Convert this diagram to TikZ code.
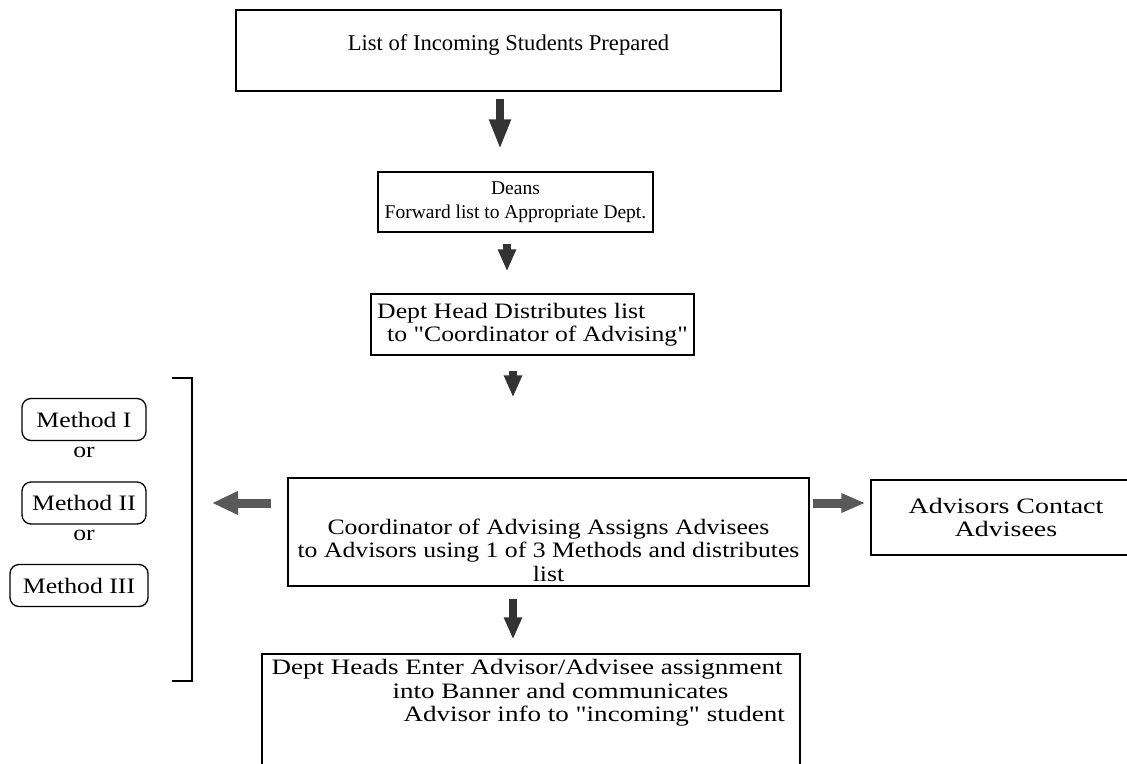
\documentclass[tikz,border=0pt]{standalone}
\usepackage{fontspec}
\setmainfont{Liberation Serif}
\newfontfamily\plainserif{Liberation Serif}
\newfontfamily\wideserif[FakeStretch=1.17]{Liberation Serif}
\newfontfamily\widerserif[FakeStretch=1.23]{Liberation Serif}
\newfontfamily\widestserif[FakeStretch=1.27]{Liberation Serif}
\usetikzlibrary{positioning,calc,arrows.meta}

\begin{document}
\begin{tikzpicture}[x=1pt,y=-1pt,
box/.style={draw,line width=1.3pt,inner sep=0pt,font=\fontsize{22}{23.5}\wideserif},
txt/.style={inner sep=0pt,font=\fontsize{22}{23.5}\wideserif},
method/.style={box,rounded corners=9pt,minimum height=42pt},
fatdown/.style={draw=black!80,line width=8pt,-{Triangle[length=22pt,width=17pt]}},
fatside/.style={draw=black!65,line width=9pt,-{Triangle[length=26pt,width=22pt]}}]
\useasboundingbox (0,0) rectangle (1127,763);
% main column
\node[box,font=\fontsize{22.6}{23.5}\plainserif,minimum width=545pt,minimum height=81pt,text depth=15pt] (list) at (508.5,50.5) {List of Incoming Students Prepared};
\node[box,font=\fontsize{19.5}{23.5}\plainserif,minimum width=275pt,minimum height=60pt,align=center] (deans) at (515.5,202) {Deans\\Forward list to Appropriate Dept.};
\node[box,minimum width=323pt,minimum height=61pt,align=left] (head) at (532.5,324.5) {Dept Head Distributes list\\\hspace*{10pt}to "Coordinator of Advising"};
\node[box,minimum width=521pt,minimum height=108pt] (assign) at (548.5,532) {};
\node[txt,align=center] (assigntxt) at ([yshift=-18pt]assign.center) {Coordinator of Advising Assigns Advisees\\to Advisors using 1 of 3 Methods and distributes\\list};
\node[box,minimum width=538pt,minimum height=130pt] (enter) at (531,719) {};
\node[txt,font=\fontsize{22}{23.5}\widerserif,align=left,anchor=north west] (entertxt) at ([xshift=10pt,yshift=-6pt]enter.north west) {Dept Heads Enter Advisor/Advisee assignment\\\hspace*{121pt}into Banner and communicates\\\hspace*{132pt}Advisor info to "incoming" student};
\node[box,font=\fontsize{22}{23.5}\widestserif,minimum width=270pt,minimum height=75pt,align=center] (contact) at (1006,517.5) {Advisors Contact\\Advisees};
% methods
\node[method,minimum width=124pt] (m1) at (84,419.5) {Method I};
\node[txt] (or1) at (84,452) {or};
\node[method,minimum width=124pt] (m2) at (84,503) {Method II};
\node[txt] (or2) at (84,535) {or};
\node[method,minimum width=138pt] (m3) at (79,585.5) {Method III};
\coordinate (btop) at (192,378);
\coordinate (bmid) at (192,503);
\coordinate (bbot) at (192,681);
\draw[line width=1.3pt] ([xshift=-20pt]btop) -- (btop) -- (bbot) -- ([xshift=-20pt]bbot);
% arrows
\draw[fatdown,-{Triangle[length=30pt,width=20pt]},shorten <=7pt,shorten >=22pt] ([xshift=-8.5pt]list.south) -- ([xshift=-15.5pt]deans.north);
\draw[fatdown,shorten <=11pt,shorten >=22pt] ([xshift=-8.5pt]deans.south) -- ([xshift=-25.5pt]head.north);
\draw[fatdown,shorten <=15pt,shorten >=80pt] ([xshift=-19.5pt]head.south) -- ([xshift=-35.5pt]assign.north);
\draw[fatdown,shorten <=12pt,shorten >=14pt] ([xshift=-35.5pt]assign.south) -- ([xshift=-18pt]enter.north);
\draw[fatside,shorten <=16pt,shorten >=20pt] ([yshift=29pt]assign.west) -- (bmid);
\draw[fatside,-{Triangle[length=24pt,width=18pt]},shorten <=3pt,shorten >=5pt] ([yshift=29pt]assign.east) -- ([yshift=14.5pt]contact.west);
\end{tikzpicture}
\end{document}
